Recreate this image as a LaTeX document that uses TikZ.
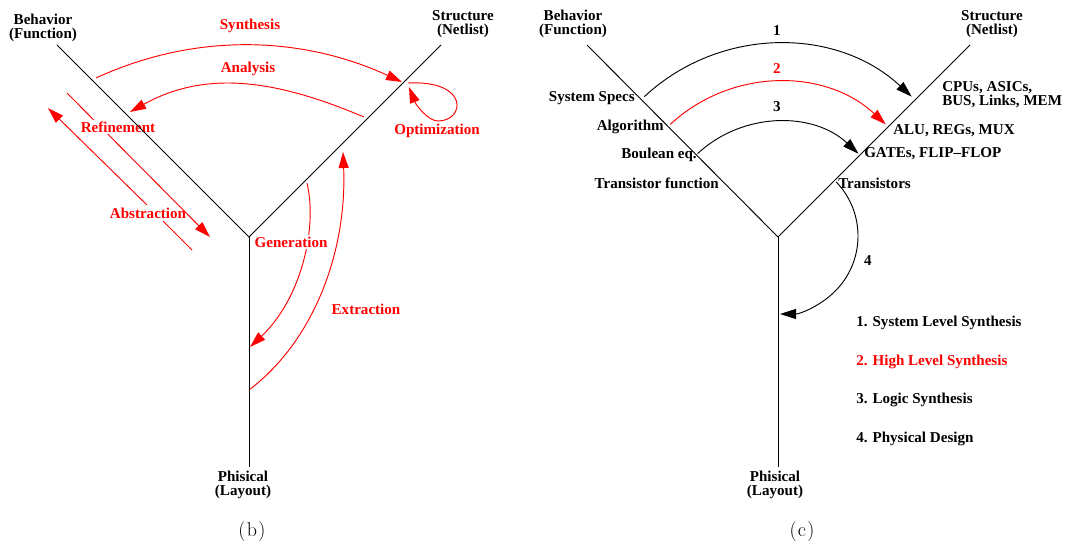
\documentclass[tikz,border=0pt]{standalone}
\usepackage{fontspec}
\usetikzlibrary{arrows.meta}
\newfontfamily\tmsfam{Liberation Serif}
\newcommand\figfont{\tmsfam\bfseries\fontsize{11.3}{10.5}\selectfont}
\newcommand\capfont{\fontsize{15}{18}\selectfont}
\tikzset{
  lbl/.style={font=\figfont, inner sep=0pt, align=center},
  rlbl/.style={lbl, text=red},
  wlbl/.style={rlbl, fill=white, inner sep=1pt},
  axis/.style={black, line width=0.7pt},
  rarr/.style={red, line width=0.7pt, -{Triangle[length=12pt,width=7.5pt]}},
  rline/.style={red, line width=0.7pt},
  barr/.style={black, line width=0.7pt, -{Triangle[length=12pt,width=7.5pt]}},
  caption/.style={font=\capfont, inner sep=0pt}
}
\begin{document}
\begin{tikzpicture}[x=0.75pt,y=-0.75pt]
\useasboundingbox (0,0) rectangle (1071,549);
% ================= (b) =================
\coordinate (bV) at (249,237);
\coordinate (bB) at (57,45);
\coordinate (bS) at (441,45);
\coordinate (bP) at (249,467);
% arrow end points
\coordinate (synA) at (96,78);   \coordinate (synB) at (402,82);
\coordinate (anaA) at (364,117); \coordinate (anaB) at (130,112);
\coordinate (optA) at (408,83);  \coordinate (optM) at (438,121); \coordinate (optB) at (409,87);
\coordinate (refA) at (67,93);   \coordinate (refB) at (210,237);
\coordinate (absA) at (192,250); \coordinate (absG1) at (163,221);
\coordinate (absG2) at (147,205); \coordinate (absB) at (48,108);
\coordinate (genA) at (307,183); \coordinate (genB) at (250,347);
\coordinate (extA) at (249,390); \coordinate (extB) at (343,152);

\draw[rarr] (synA) .. controls (196,32) and (302,36) .. (synB);
\draw[rarr] (anaA) .. controls (281,82) and (209,68) .. (anaB);
\draw[rline] (optA) .. controls (470,80) and (465,121) .. (optM);
\draw[rarr] (optM) .. controls (428,121) and (416,105) .. (optB);
\draw[rarr] (refA) -- (refB);
\draw[rline] (absA) -- (absG1);
\draw[rarr] (absG2) -- (absB);
\draw[rarr] (genA) .. controls (318,230) and (300,300) .. (genB);
\draw[rarr] (extA) .. controls (315,340) and (347,250) .. (extB);

\node[rlbl] (syn) at (250,26) {Synthesis};
\node[rlbl] (ana) at (248,69) {Analysis};
\node[rlbl] (opt) at (437,131) {Optimization};
\node[wlbl] (ref) at (118,127) {Refinement};
\node[rlbl] (abs) at (148,213) {Abstraction};
\node[wlbl] (gen) at (291,242) {Generation};
\node[rlbl] (ext) at (366,309) {Extraction};

\draw[axis] (bB) -- (bV) -- (bS);
\draw[axis] (bV) -- (bP);
\node[lbl] (bBl) at (43,28) {Behavior\\(Function)};
\node[lbl] (bSl) at (463,24) {Structure\\(Netlist)};
\node[lbl] (bPl) at (243,485) {Phisical\\(Layout)};
\node[caption] (bcap) at (252,532) {(\kern1pt b\kern1pt)};

% ================= (c) =================
\coordinate (cV) at (778,237);
\coordinate (cB) at (587,45);
\coordinate (cS) at (970,45);
\coordinate (cP) at (778,467);
\coordinate (cC) at (778,240);
\coordinate (cC4) at (780,236);

\draw[barr] ([shift={(-133:196)}]cC) arc[start angle=-133,end angle=-47,radius=196];
\draw[rarr] ([shift={(-133:158)}]cC) arc[start angle=-133,end angle=-47,radius=158];
\draw[barr] ([shift={(-133:118)}]cC) arc[start angle=-133,end angle=-47,radius=118];
\draw[barr] ([shift={(-44:78)}]cC4) arc[start angle=-44,end angle=90,radius=78];

\draw[axis] (cB) -- (cV) -- (cS);
\draw[axis] (cV) -- (cP);

\node[lbl] (cBl) at (573,24) {Behavior\\(Function)};
\node[lbl] (cSl) at (992,24) {Structure\\(Netlist)};
\node[lbl] (cPl) at (775,485) {Phisical\\(Layout)};
\node[caption] (ccap) at (802,532) {(\kern1pt c\kern1pt)};

\node[lbl] (n1) at (777,31) {1};
\node[rlbl] (n2) at (777,69) {2};
\node[lbl] (n3) at (777,107) {3};
\node[lbl] (n4) at (868,261) {4};

\node[lbl, anchor=east] (ss) at (635,98) {System Specs};
\node[lbl, anchor=east] (alg) at (664,127) {Algorithm};
\node[lbl, anchor=east] (beq) at (697,155) {Boulean eq.};
\node[lbl, anchor=east] (tf) at (719,183) {Transistor function};

\node[lbl, anchor=west, align=left] (cpu) at (942,95) {CPUs, ASICs,\\BUS, Links, MEM};
\node[lbl, anchor=west] (alu) at (893,131) {ALU, REGs, MUX};
\node[lbl, anchor=west] (gat) at (864,154) {GATEs, FLIP–FLOP};
\node[lbl, anchor=west] (tr) at (838,183) {Transistors};

\node[lbl, anchor=west] (l1) at (856,323) {1. System Level Synthesis};
\node[rlbl, anchor=west] (l2) at (856,362) {2. High Level Synthesis};
\node[lbl, anchor=west] (l3) at (856,400) {3. Logic Synthesis};
\node[lbl, anchor=west] (l4) at (856,439) {4. Physical Design};
\end{tikzpicture}
\end{document}
